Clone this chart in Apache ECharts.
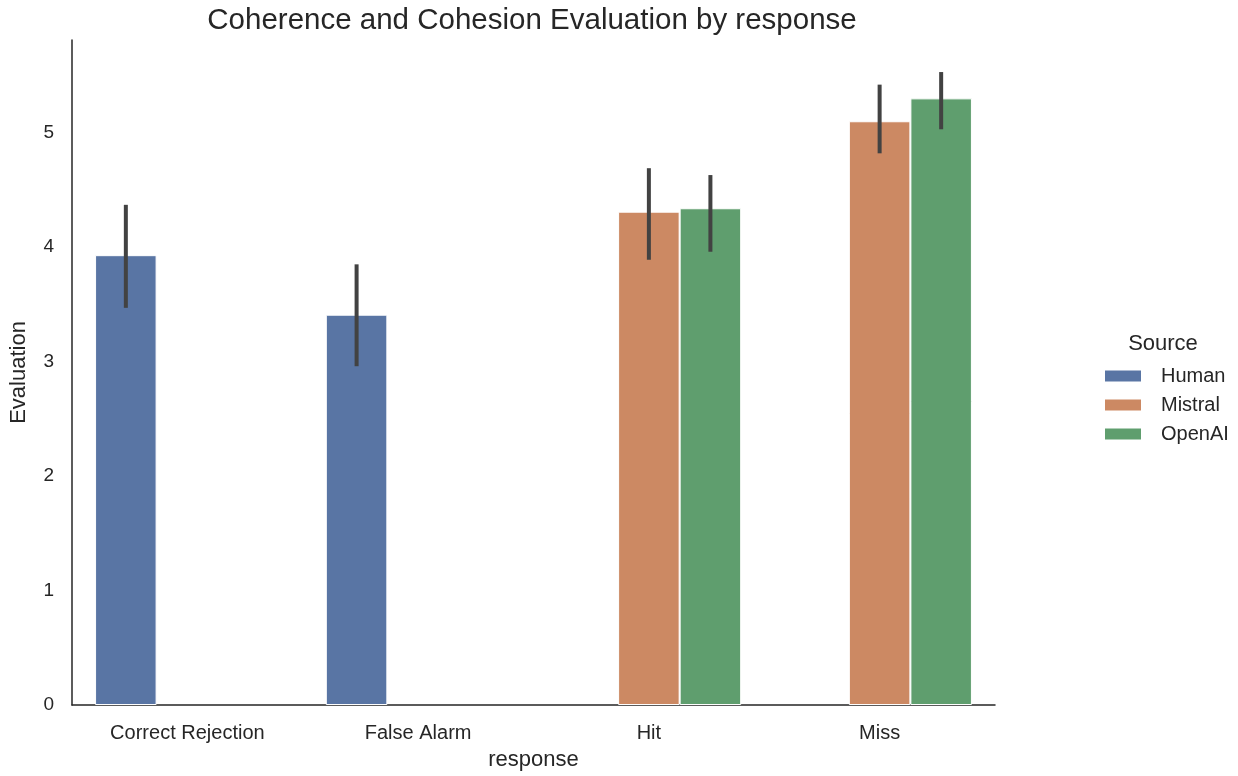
<!DOCTYPE html>
<html><head><meta charset="utf-8">
<script src="https://cdn.jsdelivr.net/npm/echarts@6/dist/echarts.min.js"></script>
<style>html,body{margin:0;padding:0;background:#fff}#c{width:1238px;height:776px}</style>
</head><body><div id="c"></div>
<script>
const categories = ['Correct Rejection', 'False Alarm', 'Hit', 'Miss'];
const sources = ['Human', 'Mistral', 'OpenAI'];
const colors = ['#5975a4', '#cc8963', '#5f9e6e'];
const humanMean = [3.93, 3.41, null, null];
const mistralMean = [null, null, 4.31, 5.10];
const openaiMean = [null, null, 4.34, 5.30];
const humanCI = [[3.47, 4.37], [2.96, 3.85], null, null];
const mistralCI = [null, null, [3.89, 4.69], [4.82, 5.42]];
const openaiCI = [null, null, [3.96, 4.63], [5.03, 5.53]];
const yTicks = [0, 1, 2, 3, 4, 5];

const means = [humanMean, mistralMean, openaiMean];
const cis = [humanCI, mistralCI, openaiCI];
const font = 'Liberation Sans, Arial, sans-serif';

const chart = echarts.init(document.getElementById('c'));
const series = [];
sources.forEach((s, i) => {
  series.push({
    name: s, type: 'bar', data: means[i], barGap: '0%', barCategoryGap: '20%',
    itemStyle: { color: colors[i], borderColor: '#fff', borderWidth: 1 },
    z: 2
  });
});
sources.forEach((s, i) => {
  const d = [];
  cis[i].forEach((c, k) => { if (c) d.push([k, c[0], c[1]]); });
  series.push({
    type: 'custom', name: s + ' CI', data: d, z: 5,
    encode: { x: 0, y: [1, 2] },
    renderItem: function (params, api) {
      const band = api.size([1, 0])[0];
      const bw = band * 0.8 / 3;
      const off = (i - 1) * bw;
      const lo = api.coord([api.value(0), api.value(1)]);
      const hi = api.coord([api.value(0), api.value(2)]);
      return {
        type: 'line',
        shape: { x1: lo[0] + off, y1: lo[1], x2: hi[0] + off, y2: hi[1] },
        style: { stroke: '#424242', lineWidth: 4 }
      };
    },
    tooltip: { show: false }
  });
});

chart.setOption({
  animation: false,
  textStyle: { fontFamily: font },
  title: [{
    text: 'Coherence and Cohesion Evaluation by response',
    left: 532, top: 6, textAlign: 'center', padding: 0,
    textStyle: { fontFamily: font, fontSize: 29.5, fontWeight: 'normal', color: '#262626' }
  }, {
    text: 'Source', left: 1163, top: 333, textAlign: 'center', padding: 0,
    textStyle: { fontFamily: font, fontSize: 22, fontWeight: 'normal', color: '#262626' }
  }],
  legend: {
    data: sources, orient: 'vertical', left: 1103, top: 366, padding: 0,
    itemWidth: 38, itemHeight: 13, itemGap: 9,
    icon: 'rect',
    textStyle: { fontFamily: font, fontSize: 20, color: '#262626', padding: [0, 0, 0, 14] }
  },
  grid: { left: 70, right: 243, top: 40, bottom: 71, containLabel: false },
  xAxis: {
    type: 'category', data: categories,
    name: 'response', nameLocation: 'middle', nameGap: 44,
    nameTextStyle: { fontFamily: font, fontSize: 22, color: '#262626' },
    axisLine: { lineStyle: { color: '#262626', width: 1.5 } },
    axisTick: { show: false },
    axisLabel: { fontFamily: font, fontSize: 20, color: '#262626', margin: 18 }
  },
  yAxis: {
    type: 'value', min: 0, max: 5.81, interval: 1,
    name: 'Evaluation', nameLocation: 'middle', nameGap: 42,
    nameTextStyle: { fontFamily: font, fontSize: 22, color: '#262626' },
    axisLine: { show: true, lineStyle: { color: '#262626', width: 1.5 } },
    axisTick: { show: false },
    splitLine: { show: false },
    axisLabel: { fontFamily: font, fontSize: 19, color: '#262626', margin: 18,
      formatter: v => yTicks.includes(v) ? String(v) : '' }
  },
  series: series
});
</script>
</body></html>
